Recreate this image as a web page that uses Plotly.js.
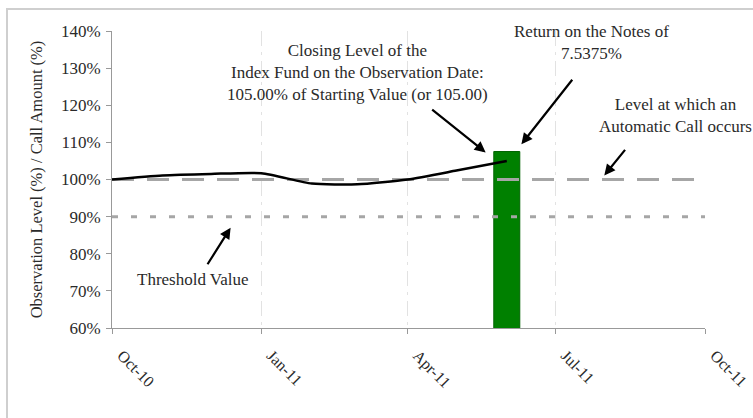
<!DOCTYPE html>
<html>
<head>
<meta charset="utf-8">
<script src="https://cdn.plot.ly/plotly-3.0.1.min.js"></script>
<style>
  html, body { margin: 0; padding: 0; background: #ffffff; }
  #wrap { position: relative; width: 753px; height: 418px; overflow: hidden; }
  #chart { position: absolute; left: 0; top: 0; width: 753px; height: 418px; }
  #frame { position: absolute; left: 6px; top: 8px; width: 760px; height: 420px;
           border-left: 2px solid #cfcfcf; border-top: 2px solid #cfcfcf; pointer-events: none; }
</style>
</head>
<body>
<div id="wrap"><div id="chart"></div><div id="frame"></div></div>
<script>
// Index fund closing level (% of starting value)
const levelDates = ['2010-10-01','2010-11-01','2010-12-01','2011-01-01','2011-02-01','2011-03-01','2011-04-01','2011-05-01','2011-06-01'];
const levelValues = [100, 101.1, 101.5, 101.7, 98.9, 98.7, 100.0, 102.4, 105.0];

// Call amount bar on the observation date
const callDates = ['2011-06-01'];
const callValues = [107.5375];

// Reference levels
const refDates = ['2010-10-01','2011-10-01'];
const callLevel = [100, 100];
const thresholdLevel = [90, 90];

// Axis ticks
const tickDates = ['2010-10-01','2011-01-01','2011-04-01','2011-07-01','2011-10-01'];
const tickLabels = ['Oct-10','Jan-11','Apr-11','Jul-11','Oct-11'];
const yTicks = [60,70,80,90,100,110,120,130,140];
const yTickLabels = ['60%','70%','80%','90%','100%','110%','120%','130%','140%'];

const font = 'Liberation Serif, Times New Roman, serif';
const txt = '#2a2a2a';
const annSize = 17;

const traces = [
  { type: 'bar', x: callDates, y: callValues, width: 16*24*3600*1000,
    marker: { color: '#008000', line: { color: '#006400', width: 1 } },
    hoverinfo: 'skip' },
  { type: 'scatter', mode: 'lines', x: refDates, y: callLevel,
    line: { color: '#a6a6a6', width: 3, dash: '22px,13px' }, hoverinfo: 'skip' },
  { type: 'scatter', mode: 'lines', x: refDates, y: thresholdLevel,
    line: { color: '#a6a6a6', width: 3, dash: '6px,13px' }, hoverinfo: 'skip' },
  { type: 'scatter', mode: 'lines', x: levelDates, y: levelValues,
    line: { color: '#000000', width: 2.5, shape: 'spline', smoothing: 0.6 }, hoverinfo: 'skip' }
];

const arrow = (x, y, ax, ay) => ({
  x: x, y: y, xref: 'x', yref: 'y', ax: ax, ay: ay, axref: 'pixel', ayref: 'pixel',
  showarrow: true, arrowhead: 2, arrowsize: 1, arrowwidth: 2.2, arrowcolor: '#000000', text: ''
});
const label = (text, x, y) => ({
  text: text, x: x, y: y, xref: 'x', yref: 'y', showarrow: false,
  font: { family: font, size: annSize, color: txt }, align: 'center'
});

const layout = {
  width: 753, height: 418,
  margin: { l: 112, r: 48, t: 31, b: 90 },
  paper_bgcolor: '#ffffff', plot_bgcolor: '#ffffff',
  showlegend: false,
  bargap: 0,
  font: { family: font, size: 17, color: txt },
  xaxis: {
    type: 'date', range: ['2010-10-01','2011-10-01'],
    tickmode: 'array', tickvals: tickDates, ticktext: tickLabels,
    tickangle: 45, ticks: 'outside', ticklen: 5, tickcolor: '#999999',
    ticklabelstandoff: 6, ticklabelshift: 10,
    showline: true, linecolor: '#999999', linewidth: 1,
    showgrid: true, gridcolor: '#e2e2e2', gridwidth: 1, griddash: 'longdashdot',
    tickfont: { family: font, size: 16, color: txt }, zeroline: false
  },
  yaxis: {
    range: [60, 140], tickmode: 'array', tickvals: yTicks, ticktext: yTickLabels,
    ticks: 'outside', ticklen: 5, tickcolor: '#999999', ticklabelstandoff: 2,
    showline: true, linecolor: '#999999', linewidth: 1,
    showgrid: false, zeroline: false,
    tickfont: { family: font, size: 17, color: txt },
    title: { text: 'Observation Level (%) / Call Amount (%)', font: { family: font, size: 16.5, color: txt }, standoff: 14 }
  },
  annotations: [
    label('Closing Level of the<br>Index Fund on the Observation Date:<br>105.00% of Starting Value (or 105.00)', '2011-03-01', 128.9),
    label('Return on the Notes of<br>7.5375%', '2011-07-23', 136.8),
    label('Level at which an<br>Automatic Call occurs', '2011-09-13', 117.3),
    label('Threshold Value', '2010-11-20', 73.2),
    arrow('2011-05-19', 107.3, -55, -44),
    arrow('2011-06-10', 109.5, 52, -66),
    arrow('2011-07-31', 101.1, 22, -27),
    arrow('2010-12-13', 87.0, -24, 38)
  ]
};

Plotly.newPlot('chart', traces, layout, { displayModeBar: false, staticPlot: true });
</script>
</body>
</html>
